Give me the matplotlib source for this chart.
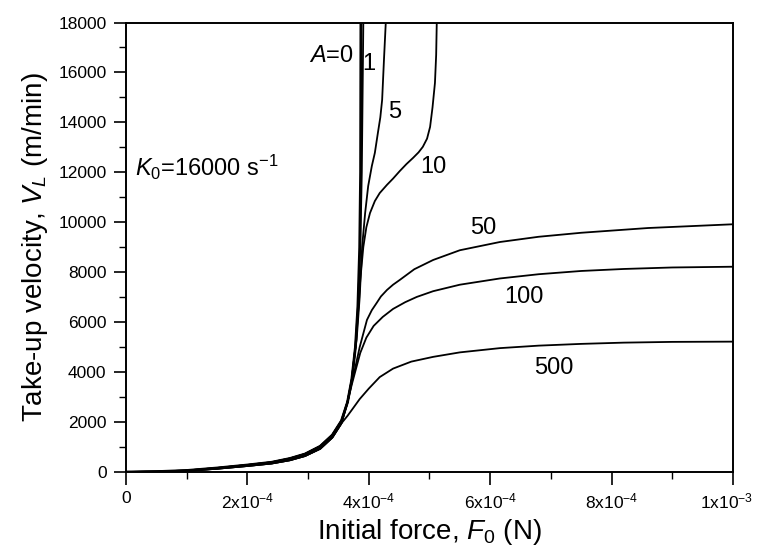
import matplotlib.pyplot as plt
from matplotlib.ticker import MultipleLocator, FixedLocator
from matplotlib.transforms import ScaledTranslation

plt.rcParams['font.family'] = ['Liberation Sans', 'DejaVu Sans']
plt.rcParams['mathtext.fontset'] = 'custom'
plt.rcParams['mathtext.rm'] = 'Liberation Sans'
plt.rcParams['mathtext.it'] = 'Liberation Sans:italic'

# initial force in units of 1e-4 N, velocity in m/min
F_SCALE = 1e-4

# shared low part of the curves
F_low = [0, 0.5, 1.0, 1.5, 2.0, 2.4, 2.7, 2.95, 3.2, 3.4, 3.55, 3.65, 3.72, 3.78, 3.82]
V_low = [0, 15, 60, 160, 280, 390, 540, 720, 1030, 1480, 2050, 2800, 3700, 5000, 6600]
F_low2 = [0, 0.5, 1.0, 1.5, 2.0, 2.4, 2.7, 2.95, 3.2, 3.4, 3.55]
V_low2 = [0, 10, 45, 130, 240, 340, 470, 640, 930, 1380, 1950]

F_a0 = F_low + [3.85, 3.865, 3.87]
V_a0 = V_low + [9000, 12000, 18000]

F_a1 = F_low + [3.86, 3.885, 3.91]
V_a1 = V_low + [9000, 12000, 18000]

F_a5 = F_low[:-1] + [3.80, 3.85, 3.89, 3.94, 3.99, 4.05, 4.10, 4.15, 4.19, 4.22, 4.25, 4.28]
V_a5 = V_low[:-1] + [5300, 7000, 9010, 10370, 11450, 12250, 12780, 13580, 14200, 14900, 16500, 18000]

F_a10 = F_low[:-2] + [3.78, 3.83, 3.86, 3.91, 3.96, 4.02, 4.1, 4.18, 4.30, 4.40, 4.51, 4.62, 4.73, 4.82,
                      4.89, 4.96, 5.01, 5.05, 5.09, 5.11, 5.12]
V_a10 = V_low[:-2] + [5000, 6600, 7690, 9010, 9800, 10370, 10850, 11170, 11500, 11750, 12050, 12330, 12580,
                      12800, 13020, 13350, 13820, 14600, 15580, 16700, 18000]

F_a50 = F_low2 + [3.65, 3.72, 3.77, 3.85, 3.97, 4.05, 4.13, 4.2, 4.3, 4.4, 4.51, 4.75, 5.06, 5.5, 6.16,
                  6.8, 7.5, 8.6, 10]
V_a50 = V_low2 + [2800, 3600, 4100, 5000, 6090, 6480, 6770, 7030, 7290, 7500, 7690, 8120, 8490, 8880, 9210,
                  9420, 9580, 9770, 9920]

F_a100 = F_low2 + [3.65, 3.72, 3.78, 3.86, 3.96, 4.08, 4.23, 4.4, 4.6, 4.79, 5.06, 5.5, 6.16, 6.8, 7.5,
                   8.2, 9.0, 10]
V_a100 = V_low2 + [2800, 3500, 4050, 4770, 5380, 5850, 6210, 6530, 6800, 7010, 7240, 7500, 7750, 7920, 8050,
                   8130, 8190, 8220]

F_a500 = F_low2 + [3.65, 3.74, 3.85, 4.0, 4.18, 4.4, 4.7, 5.06, 5.5, 6.16, 6.8, 7.5, 8.2, 9.0, 10]
V_a500 = V_low2 + [2250, 2550, 2920, 3340, 3800, 4140, 4420, 4610, 4790, 4960, 5060, 5130, 5180, 5210, 5220]

curves = [(F_a0, V_a0, 2.0), (F_a1, V_a1, 1.3), (F_a5, V_a5, 1.3), (F_a10, V_a10, 1.3),
          (F_a50, V_a50, 1.3), (F_a100, V_a100, 1.3), (F_a500, V_a500, 1.3)]

# curve labels: text, F (1e-4 N), V
labels = [('$A$=0', 3.38, 16650), ('1', 4.0, 16350), ('5', 4.42, 14420),
          ('10', 5.07, 12200), ('50', 5.88, 9780), ('100', 6.55, 7000), ('500', 7.05, 4160)]

xticks = [0, 2e-4, 4e-4, 6e-4, 8e-4, 1e-3]
xtick_labels = ['0', '2x10$^{-4}$', '4x10$^{-4}$', '6x10$^{-4}$', '8x10$^{-4}$', '1x10$^{-3}$']

fig = plt.figure(figsize=(7.58, 5.53), dpi=100)
ax = fig.add_axes([0.1662, 0.1465, 0.8008, 0.8128])

for F, V, lw in curves:
    ax.plot([f * F_SCALE for f in F], V, color='black', lw=lw)

for txt, f, v in labels:
    ax.text(f * F_SCALE, v, txt, fontsize=17, ha='center', va='center')

ax.text(0.15 * F_SCALE, 12200, '$K_0$=16000 s$^{-1}$', fontsize=17, ha='left', va='center')

ax.set_xlim(0, 1e-3)
ax.set_ylim(0, 18000)
ax.xaxis.set_major_locator(FixedLocator(xticks))
ax.set_xticklabels(xtick_labels)
ax.xaxis.set_minor_locator(MultipleLocator(1e-4))
ax.yaxis.set_major_locator(MultipleLocator(2000))
ax.yaxis.set_minor_locator(MultipleLocator(1000))
ax.tick_params(which='major', direction='out', length=9, width=1.2, labelsize=12.5, pad=5,
               top=False, right=False)
ax.tick_params(which='minor', direction='out', length=5, width=1.0, top=False, right=False)
for s in ax.spines.values():
    s.set_linewidth(1.4)

# keep the last x label inside the figure
last = ax.get_xticklabels()[-1]
last.set_transform(last.get_transform() + ScaledTranslation(-6 / 100, 0, fig.dpi_scale_trans))

ax.set_xlabel('Initial force, $F_0$ (N)', fontsize=20, labelpad=4)
ax.set_ylabel('Take-up velocity, $V_L$ (m/min)', fontsize=20, labelpad=6)

fig.savefig('out.png', dpi=100)
